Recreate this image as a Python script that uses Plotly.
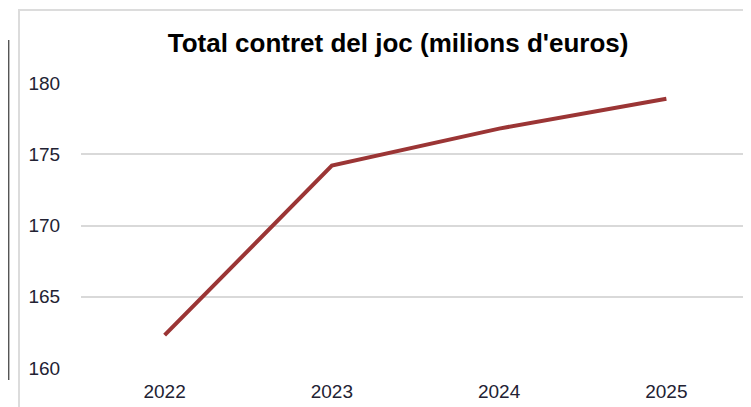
import plotly.graph_objects as go

years = ["2022", "2023", "2024", "2025"]
totals = [162.3, 174.2, 176.8, 178.9]
y_ticks = [160, 165, 170, 175, 180]

fig = go.Figure()
fig.add_trace(
    go.Scatter(
        x=years,
        y=totals,
        mode="lines",
        line=dict(color="#9b3535", width=4),
        hoverinfo="skip",
    )
)

# chart frame and the dark line to its left
fig.add_shape(
    type="rect", xref="paper", yref="paper",
    x0=-0.0927, y0=-0.3, x1=1.05, y1=1.256,
    line=dict(color="#dcdcdc", width=2), layer="below",
)
fig.add_shape(
    type="line", xref="paper", yref="paper",
    x0=-0.1085, y0=-0.042, x1=-0.1085, y1=1.151,
    line=dict(color="#555555", width=2),
)

fig.update_layout(
    width=743,
    height=399,
    margin=dict(l=73, r=1, t=75, b=39),
    plot_bgcolor="white",
    paper_bgcolor="white",
    showlegend=False,
    font=dict(family="Liberation Sans, Arial, sans-serif", size=19, color="#222233"),
    title=dict(
        text="<b>Total contret del joc (milions d'euros)</b>",
        x=0.474, xref="paper", xanchor="center",
        y=1 - 35 / 399, yref="container", yanchor="middle",
        font=dict(size=26, color="#000000"),
    ),
)
fig.update_xaxes(
    type="category",
    range=[-0.5, 3.5],
    showgrid=False,
    showline=False,
    zeroline=False,
    ticks="outside",
    ticklen=6,
    tickcolor="rgba(0,0,0,0)",
)
fig.update_yaxes(
    range=[160, 180],
    tickvals=y_ticks,
    showgrid=True,
    gridcolor="#d9d9d9",
    gridwidth=1.5,
    zeroline=False,
    showline=False,
    ticks="outside",
    ticklen=16,
    tickcolor="rgba(0,0,0,0)",
)

fig.write_html("out.html")
